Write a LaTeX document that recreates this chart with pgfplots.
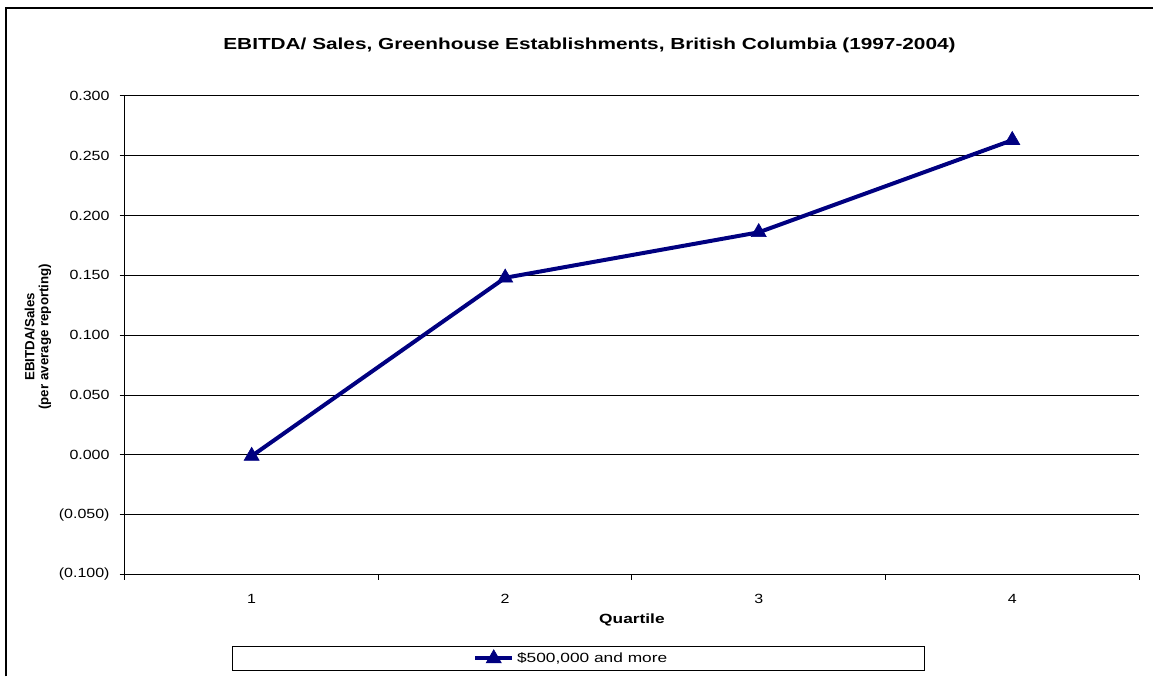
\documentclass[border=0pt]{standalone}
\usepackage{fontspec}
\setmainfont{Liberation Sans}
\newfontfamily\tfont[FakeStretch=1.2]{Liberation Sans}
\newfontfamily\wfont[FakeStretch=1.3]{Liberation Sans}
\usepackage{pgfplots}
\pgfplotsset{compat=1.18}
\definecolor{navy}{RGB}{0,0,128}
\begin{document}
\begin{tikzpicture}
\path (0pt,0pt) rectangle (865.5pt,507.75pt);
\draw[line width=1.5pt] (4.5pt,0pt) -- (4.5pt,501.75pt) -- (865.5pt,501.75pt);
\begin{axis}[
 at={(93.75pt,76.5pt)}, anchor=south west,
 width=761.25pt, height=359.25pt, scale only axis,
 xmin=0.5, xmax=4.5, ymin=-0.1, ymax=0.3,
 axis x line*=bottom, axis y line*=left,
 axis line style={black, line width=0.75pt, -},
 xtick={1,2,3,4}, xticklabels={1,2,3,4},
 minor xtick={0.5,1.5,2.5,3.5,4.5},
 major x tick style={draw=none},
 minor tick length=4pt,
 major tick length=4pt,
 ytick={-0.1,-0.05,0,0.05,0.1,0.15,0.2,0.25,0.3},
 yticklabels={(0.100),(0.050),0.000,0.050,0.100,0.150,0.200,0.250,0.300},
 tick align=outside,
 tick style={black, line width=0.75pt},
 ymajorgrids, grid style={black, line width=0.75pt},
 ticklabel style={font=\tfont\fontsize{10}{12}\selectfont},
 xticklabel style={yshift=-7.5pt},
 yticklabel style={xshift=-4pt},
 xlabel={Quartile},
 xlabel style={font=\wfont\bfseries\fontsize{10}{12}\selectfont, at={(axis description cs:0.5,0)}, anchor=center, yshift=-34.5pt},
 legend style={at={(axis description cs:0.4404,-0.1754)}, anchor=center, draw=none, fill=none, font=\wfont\fontsize{10}{12}\selectfont, inner sep=0pt},
 legend image code/.code={\draw[mark repeat=2,mark phase=2,#1] plot coordinates {(0pt,0pt) (14pt,0pt) (28pt,0pt)};},
]
\addplot[navy, line width=3pt, mark=triangle*, mark size=6.5pt, mark options={solid, line width=0.5pt}] coordinates {(1,-0.001) (2,0.148) (3,0.186) (4,0.263)};
\addlegendentry{\$500,000 and more}
\end{axis}
\draw[line width=0.75pt] (174.75pt,22.5pt) rectangle (693.75pt,4.5pt);
\node[font=\wfont\bfseries\fontsize{12}{14}\selectfont] at (442.5pt,474pt) {EBITDA/ Sales, Greenhouse Establishments, British Columbia (1997-2004)};
\node[rotate=90, font=\bfseries\fontsize{10}{10.5}\selectfont, align=center] at (28.5pt,255pt) {EBITDA/Sales\\(per average reporting)};
\end{tikzpicture}
\end{document}
